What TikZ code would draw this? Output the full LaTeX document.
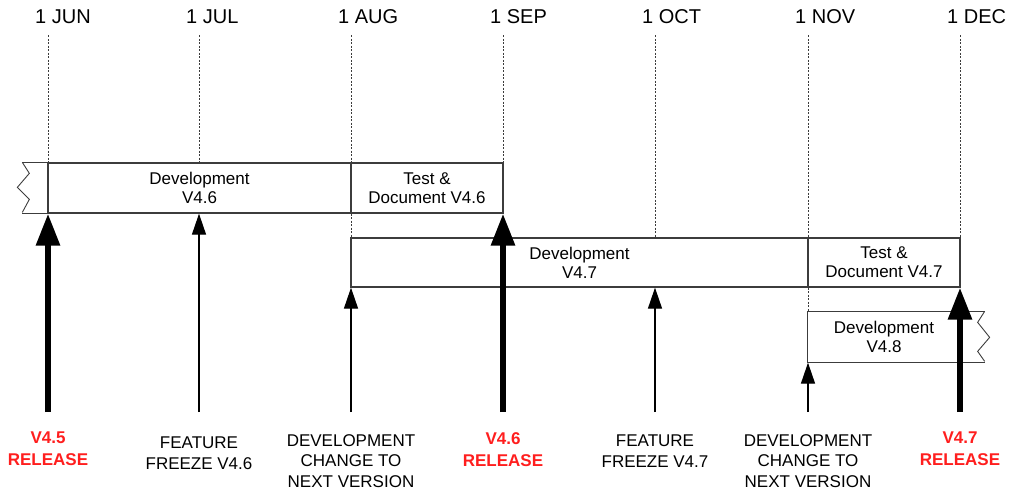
\documentclass[tikz,border=0pt]{standalone}
\usepackage{fontspec}
\setmainfont{Liberation Sans}
\usetikzlibrary{arrows.meta}
\definecolor{relred}{RGB}{255,30,30}
\definecolor{rimgray}{RGB}{60,60,60}

\tikzset{
  month/.style={font=\fontsize{20}{24}\selectfont,inner sep=0pt,anchor=west},
  phase/.style={draw=rimgray,line width=1.3pt,minimum height=50pt,align=center,inner sep=0pt,font=\fontsize{17}{19}\selectfont},
  rim/.style={rimgray,line width=1.3pt},
  zig/.style={rimgray,line width=0.9pt},
  guide/.style={rimgray,line width=0.8pt,dash pattern=on 2pt off 1.5pt},
  event/.style={align=center,inner sep=0pt,anchor=north,font=\fontsize{17}{20.5}\selectfont},
  release/.style={event,text=relred,font=\bfseries\fontsize{17}{22}\selectfont},
  minor/.style={black,line width=1.3pt,-{Triangle[length=21pt,width=14pt]}},
  major/.style={black,line width=6pt,-{Triangle[length=32pt,width=23pt]}}
}

\begin{document}
\begin{tikzpicture}[x=1pt,y=-1pt]
\useasboundingbox (0,0) rectangle (1013,491);

% months along the top
\node[month] (mJUN) at (35,17) {1 JUN};
\node[month] (mJUL) at (186,17) {1 JUL};
\node[month] (mAUG) at (338,17) {1 AUG};
\node[month] (mSEP) at (490,17) {1 SEP};
\node[month] (mOCT) at (642,17) {1 OCT};
\node[month] (mNOV) at (795,17) {1 NOV};
\node[month] (mDEC) at (947,17) {1 DEC};
\coordinate (tJUN) at (48,35);
\coordinate (tJUL) at (199,35);
\coordinate (tAUG) at (351,35);
\coordinate (tSEP) at (503,35);
\coordinate (tOCT) at (655,35);
\coordinate (tNOV) at (808,35);
\coordinate (tDEC) at (960,35);

% phases
\node[phase,minimum width=303pt] (dev46) at (199.5,188) {Development\\V4.6};
\node[phase,minimum width=152pt] (tst46) at (427,188) {Test \&\\Document V4.6};
\node[phase,minimum width=457pt,minimum height=49pt] (dev47) at (579.5,262.5) {Development\\V4.7};
\node[phase,minimum width=152pt,minimum height=49pt] (tst47) at (884,262.5) {Test \&\\Document V4.7};
\node[phase,draw=none,minimum width=152pt] (dev48) at (884,337) {Development\\V4.8};
\draw[rim] (dev46.north west) -- ++(-25,0);
\draw[rim] (dev46.south west) -- ++(-25,0);
\draw[zig] ([xshift=-25pt]dev46.north west) -- ++(7,11) -- ++(-12,14) -- ++(12,12) -- ++(-7,13);
\draw[rim] ([xshift=24pt]dev48.north east) -- (dev48.north west) -- (dev48.south west) -- ([xshift=24pt]dev48.south east);
\draw[zig] ([xshift=24pt]dev48.north east) -- ++(-7,11) -- ++(12,15) -- ++(-12,14) -- ++(7,10);

% dotted month lines
\draw[guide] (tJUN) -- (tJUN |- dev46.north);
\draw[guide] (tJUL) -- (tJUL |- dev46.north);
\draw[guide] (tAUG) -- (tAUG |- dev46.north);
\draw[guide] (tAUG |- dev46.south) -- (tAUG |- dev47.north);
\draw[guide] (tSEP) -- (tSEP |- dev46.north);
\draw[guide] (tOCT) -- (tOCT |- dev47.north);
\draw[guide] (tNOV) -- (tNOV |- dev47.north);
\draw[guide] (tNOV |- dev47.south) -- (tNOV |- dev48.north);
\draw[guide] (tDEC) -- (tDEC |- dev47.north);

% events
\node[release] (rel45) at (48,432) {V4.5\\RELEASE};
\node[event] (frz46) at (199,437) {FEATURE\\FREEZE V4.6};
\node[event] (chg47) at (351,434) {DEVELOPMENT\\CHANGE TO\\NEXT VERSION};
\node[release] (rel46) at (503,432) {V4.6\\RELEASE};
\node[event] (frz47) at (655,435) {FEATURE\\FREEZE V4.7};
\node[event] (chg48) at (808,434) {DEVELOPMENT\\CHANGE TO\\NEXT VERSION};
\node[release] (rel47) at (960,432) {V4.7\\RELEASE};

\draw[major,shorten <=20pt] (rel45.north) -- (rel45.north |- dev46.south);
\draw[minor,shorten <=25pt] (frz46.north) -- (frz46.north |- dev46.south);
\draw[minor,shorten <=22pt] (chg47.north) -- (chg47.north |- dev47.south);
\draw[major,shorten <=20pt] (rel46.north) -- (rel46.north |- tst46.south);
\draw[minor,shorten <=23pt] (frz47.north) -- (frz47.north |- dev47.south);
\draw[minor,shorten <=22pt] (chg48.north) -- (chg48.north |- dev48.south);
\draw[major,shorten <=20pt] (rel47.north) -- (rel47.north |- tst47.south);
\end{tikzpicture}
\end{document}
